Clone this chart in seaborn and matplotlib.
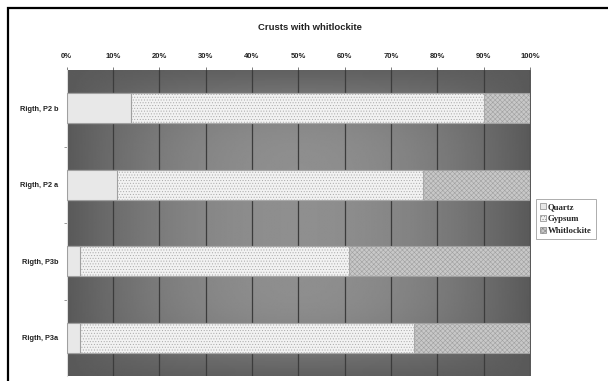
import numpy as np
import pandas as pd
import matplotlib
matplotlib.use("Agg")
import matplotlib.pyplot as plt
from matplotlib.patches import Patch, Rectangle
import seaborn as sns

# ---- data (top to bottom) ----
samples = ["Rigth, P2 b", "Rigth, P2 a", "Rigth, P3b", "Rigth, P3a"]
quartz = [14, 11, 3, 3]
gypsum = [76, 66, 58, 72]
whitlockite = [10, 23, 39, 25]
xticks = [0, 10, 20, 30, 40, 50, 60, 70, 80, 90, 100]
xtick_labels = ["0%", "10%", "20%", "30%", "40%", "50%", "60%", "70%", "80%", "90%", "100%"]
title = "Crusts with whitlockite"
series_names = ["Quartz", "Gypsum", "Whitlockite"]

sns.set_theme(style="white")
plt.rcParams["font.family"] = ["Liberation Sans", "DejaVu Sans"]
plt.rcParams["hatch.linewidth"] = 0.4

df = pd.DataFrame({"sample": samples, "Quartz": quartz, "Gypsum": gypsum,
                   "Whitlockite": whitlockite})
df["q_end"] = df["Quartz"]
df["g_end"] = df["Quartz"] + df["Gypsum"]
df["w_end"] = df["g_end"] + df["Whitlockite"]

W, H = 608, 381
fig = plt.figure(figsize=(W / 100, H / 100), dpi=100)
fig.patch.set_facecolor("white")
ax = fig.add_axes([66.5 / W, 1 - 376 / H, (530 - 66.5) / W, (376 - 70) / H])

# background gradient (plot-area fill)
xs = np.linspace(0, 1, 300)
ys = np.linspace(-0.5, 3.5, 200)
X, Y = np.meshgrid(xs, ys)
gx = 1 - (2 * np.abs(X - 0.5)) ** 2
gy = np.exp(-((np.abs(Y - 1.5)) / 1.8) ** 6)
bg = 0.35 + 0.21 * gx * gy
ax.imshow(bg, cmap="gray", vmin=0, vmax=1, aspect="auto",
          extent=[0, 100, 3.5, -0.5], zorder=0, interpolation="bilinear")

styles = [
    ("w_end", "#c8c8c8", "#a0a0a0", "xxxxxxx"),
    ("g_end", "#f2f2f2", "#a8a8a8", "......"),
    ("q_end", "#e8e8e8", "#a0a0a0", None),
]
for col, fc, ec, hatch in styles:
    n_before = len(ax.patches)
    sns.barplot(data=df, x=col, y="sample", orient="h", color=fc,
                width=0.39, saturation=1, ax=ax, zorder=3,
                edgecolor=ec, linewidth=0.8)
    for p in ax.patches[n_before:]:
        p.set_facecolor(fc)
        if hatch:
            p.set_hatch(hatch)

ax.set_xlim(0, 100)
ax.set_ylim(3.5, -0.5)
ax.set_xlabel("")
ax.set_ylabel("")

# vertical gridlines
for xv in xticks:
    ax.axvline(xv, color="#3c3c3c", lw=0.9, zorder=1)

ax.xaxis.tick_top()
ax.set_xticks(xticks)
ax.set_xticklabels(xtick_labels, fontsize=5.5, fontweight="bold", color="#222222")
ax.tick_params(axis="x", top=True, length=2.5, width=0.6, color="#666666", pad=4.5)
ax.set_yticks(range(len(samples)))
ax.set_yticklabels(samples, fontsize=5.3, fontweight="bold", color="#222222")
ax.tick_params(axis="y", left=False, length=0, pad=6)
ax.set_yticks([0.5, 1.5, 2.5], minor=True)
ax.tick_params(axis="y", which="minor", left=True, length=2, width=0.6, color="#888888")

for s in ["top", "right", "bottom"]:
    ax.spines[s].set_visible(False)
ax.spines["left"].set_color("#dddddd")
ax.spines["left"].set_linewidth(0.8)

fig.text(310 / W, 1 - 28 / H, title, ha="center", va="center",
         fontsize=6.8, fontweight="bold", color="#222222")

handles = [
    Patch(facecolor="#e8e8e8", edgecolor="#888888", linewidth=0.5),
    Patch(facecolor="#f2f2f2", edgecolor="#888888", hatch="......", linewidth=0.5),
    Patch(facecolor="#c8c8c8", edgecolor="#888888", hatch="xxxxxxx", linewidth=0.5),
]
leg = fig.legend(handles, series_names, loc="upper left",
                 bbox_to_anchor=(536 / W, 1 - 199 / H),
                 prop={"family": "Liberation Serif", "size": 6.3, "weight": "bold"},
                 frameon=True, fancybox=False, handlelength=0.7, handleheight=0.7,
                 handletextpad=0.2, labelspacing=0.45, borderpad=0.45,
                 borderaxespad=0)
leg.get_frame().set_edgecolor("#888888")
leg.get_frame().set_linewidth(0.6)

# outer chart frame
fig.add_artist(Rectangle((8 / W, -0.2), 2, 1.2 - 8 / H, transform=fig.transFigure,
                         fill=False, edgecolor="black", linewidth=1.6, clip_on=False))

fig.savefig("out.png", dpi=100)
